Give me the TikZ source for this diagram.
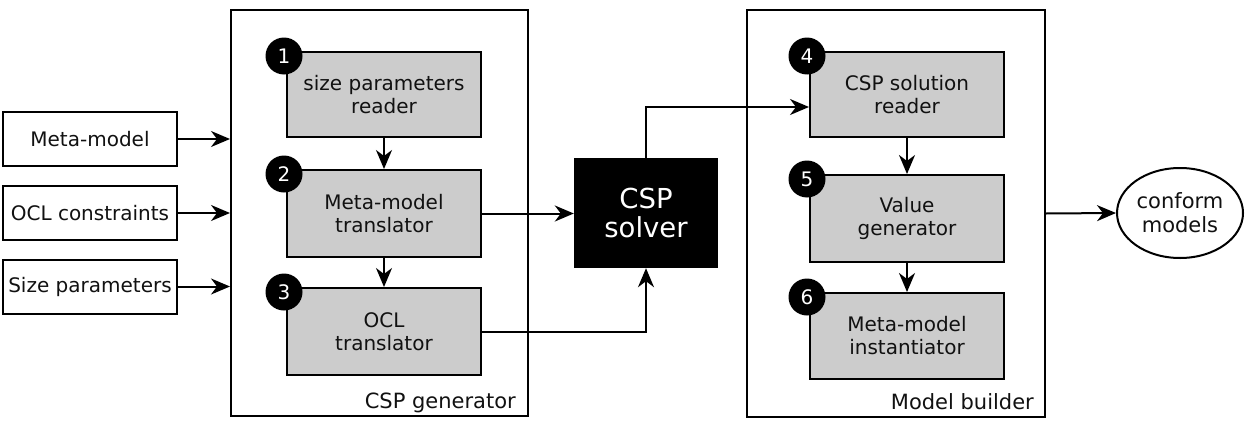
\documentclass[tikz,border=0pt]{standalone}
\usepackage{fontspec}
\setmainfont{DejaVu Sans}
\usetikzlibrary{arrows.meta,shapes.geometric,calc}
\definecolor{boxgray}{HTML}{CCCCCC}
\definecolor{txt}{HTML}{111111}
\begin{document}
\begin{tikzpicture}[x=1pt,y=-1pt,
  every node/.style={text=txt},
  arr/.style={line width=2pt, -{Stealth[length=19pt,width=16pt,inset=6pt]}},
  inbox/.style={draw, line width=2pt, minimum width=174pt, minimum height=54pt, font=\fontsize{20}{23}\selectfont, inner sep=0pt},
  stepbox/.style={draw, line width=2pt, fill=boxgray, minimum width=194pt, minimum height=86pt, align=center, font=\fontsize{20}{23}\selectfont, inner sep=0pt},
  num/.style={circle, fill=black, minimum size=37pt, inner sep=0pt, text=white, font=\fontsize{20}{20}\selectfont},
  container/.style={draw, line width=2pt, inner sep=0pt},
  caption/.style={anchor=base east, font=\fontsize{21}{23}\selectfont, inner sep=0pt}
]
\useasboundingbox (0,0) rectangle (1249,423);
% containers
\node[container, minimum width=297pt, minimum height=406pt] (gen) at (379.5,213) {};
\node[container, minimum width=298pt, minimum height=407pt] (bld) at (896,213.5) {};
\node[caption] (genlab) at ([xshift=-13pt,yshift=9pt]gen.south east) {CSP generator};
\node[caption] (bldlab) at ([xshift=-12pt,yshift=9pt]bld.south east) {Model builder};
% inputs
\node[inbox] (in1) at (90,139) {Meta-model};
\node[inbox] (in2) at (90,213) {OCL constraints};
\node[inbox] (in3) at (90,286.5) {Size parameters};
% generator steps
\node[stepbox, minimum height=85pt] (s1) at (384,94.5) {size parameters\\reader};
\node[stepbox, minimum height=87pt] (s2) at (384,213.5) {Meta-model\\translator};
\node[stepbox, minimum height=87pt] (s3) at (384,331.5) {OCL\\translator};
% builder steps
\node[stepbox, minimum height=85pt] (s4) at (907,94.5) {CSP solution\\reader};
\node[stepbox, minimum height=87pt] (s5) at (907,218.5) {Value\\generator};
\node[stepbox, minimum height=86pt] (s6) at (907,336) {Meta-model\\instantiator};
% numbers
\node[num] (n1) at ([xshift=-2pt,yshift=-5pt]s1.north west) {1};
\node[num] (n2) at ([xshift=-2pt,yshift=-5pt]s2.north west) {2};
\node[num] (n3) at ([xshift=-2pt,yshift=-5pt]s3.north west) {3};
\node[num] (n4) at ([xshift=-2pt,yshift=-5pt]s4.north west) {4};
\node[num] (n5) at ([xshift=-2pt,yshift=-5pt]s5.north west) {5};
\node[num] (n6) at ([xshift=-2pt,yshift=-5pt]s6.north west) {6};
% solver
\node[fill=black, minimum width=144pt, minimum height=110pt, inner sep=0pt, text=white, align=center, font=\fontsize{27.5}{29}\selectfont] (solver) at (646,213) {CSP\\solver};
% output
\node[draw, ellipse, line width=2pt, minimum width=126pt, minimum height=90pt, inner sep=0pt, align=center, font=\fontsize{21}{24}\selectfont] (out) at (1180,213) {conform\\models};
% connectors
\draw[arr] (in1.east) -- (in1.east -| gen.west);
\draw[arr] (in2.east) -- (in2.east -| gen.west);
\draw[arr] (in3.east) -- (in3.east -| gen.west);
\draw[arr] (s1) -- (s2);
\draw[arr] (s2) -- (s3);
\draw[arr] (s4) -- (s5);
\draw[arr] (s5) -- (s6);
\draw[arr] (s2.east) -- (s2.east -| solver.west);
\draw[arr] (s3.east) -| (solver.south);
\coordinate (s4in) at ([yshift=-12.5pt]s4.west);
\draw[arr] (solver.north) |- (s4in);
\draw[arr] (bld.east) -- (out.west);
\end{tikzpicture}
\end{document}
